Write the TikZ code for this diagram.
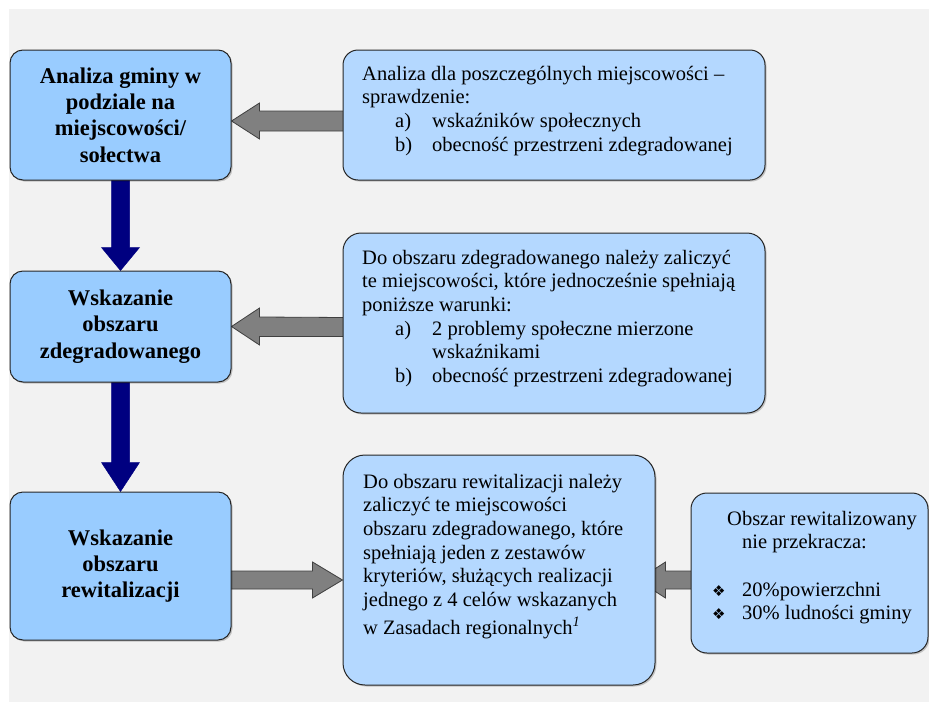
\documentclass[tikz,border=0pt]{standalone}
\usepackage{fontspec}
\setmainfont{Liberation Serif}
\newfontfamily\symfont{DejaVu Sans}
\usetikzlibrary{calc,shadows}
\definecolor{bggray}{HTML}{F2F2F2}
\definecolor{leftblue}{RGB}{153,204,255}
\definecolor{rightblue}{RGB}{180,216,255}
\definecolor{arrowgray}{RGB}{128,128,128}
\definecolor{navyarrow}{RGB}{0,0,128}
\pgfdeclarelayer{back}
\pgfdeclarelayer{mid}
\pgfsetlayers{back,mid,main}
\begin{document}
\begin{tikzpicture}[x=1pt,y=-1pt,
  boxbase/.style={draw=black!85, line width=1pt, inner sep=0pt,
    drop shadow={shadow xshift=1.5pt, shadow yshift=-1.5pt, opacity=0.2, fill=black}},
  leftbox/.style={boxbase, fill=leftblue, rounded corners=13pt, align=center,
    font=\fontsize{22.5}{26.3}\selectfont\bfseries},
  rightbox/.style={boxbase, fill=rightblue},
  txt/.style={inner sep=0pt, anchor=north west, align=left,
    font=\fontsize{20.5}{23.6}\selectfont},
  grayarrow/.style={fill=arrowgray, draw=black!75, line width=0.8pt, line join=miter},
  bluearrow/.style={fill=navyarrow, draw=navyarrow, line width=0.5pt}]
\useasboundingbox (0,0) rectangle (929,715);
\begin{pgfonlayer}{back}
  \fill[bggray] (9,9) rectangle (929,702);
\end{pgfonlayer}

% left column
\node[leftbox, minimum width=221pt, minimum height=130pt] (A) at (120.5,115)
  {Analiza gminy w\\podziale na\\miejscowości/\\sołectwa};
\node[leftbox, minimum width=221pt, minimum height=111pt] (C) at (120.5,326.5)
  {Wskazanie\\obszaru\\zdegradowanego};
\node[leftbox, minimum width=221pt, minimum height=148pt] (E) at (120.5,566)
  {Wskazanie\\obszaru\\rewitalizacji};

% right boxes
\node[rightbox, rounded corners=15pt, minimum width=422pt, minimum height=130pt] (B) at (554,115) {};
\node[rightbox, rounded corners=18pt, minimum width=422pt, minimum height=180pt] (D) at (554,323) {};
\node[rightbox, rounded corners=22pt, minimum width=312pt, minimum height=230pt] (F) at (499,570) {};
\node[rightbox, rounded corners=16pt, minimum width=237pt, minimum height=160pt] (G) at (809.5,573) {};

% texts
\node[txt] (Bt) at (362,64) {\rule{0pt}{16pt}Analiza dla poszczególnych miejscowości –\\
  sprawdzenie:\\
  \hspace*{33pt}\makebox[37pt][l]{a)}wskaźników społecznych\\
  \hspace*{33pt}\makebox[37pt][l]{b)}obecność przestrzeni zdegradowanej};
\node[txt] (Dt) at (362,248) {\rule{0pt}{16pt}Do obszaru zdegradowanego należy zaliczyć\\
  te miejscowości, które jednocześnie spełniają\\
  poniższe warunki:\\
  \hspace*{33pt}\makebox[37pt][l]{a)}2 problemy społeczne mierzone\\
  \hspace*{70pt}wskaźnikami\\
  \hspace*{33pt}\makebox[37pt][l]{b)}obecność przestrzeni zdegradowanej};
\node[txt] (Ft) at (363,472) {\rule{0pt}{16pt}Do obszaru rewitalizacji należy\\
  zaliczyć te miejscowości\\
  obszaru zdegradowanego, które\\
  spełniają jeden z zestawów\\
  kryteriów, służących realizacji\\
  jednego z 4 celów wskazanych\\[4.5pt]
  w Zasadach regionalnych\textsuperscript{\textit{1}}};
\node[txt] (Gt) at (712,509) {\rule{0pt}{16pt}\hspace*{15pt}Obszar rewitalizowany\\
  \hspace*{30pt}nie przekracza:\\
  \mbox{}\\
  \makebox[30pt][l]{\symfont\fontsize{15}{15}\selectfont ❖}20\%powierzchni\\
  \makebox[30pt][l]{\symfont\fontsize{15}{15}\selectfont ❖}30\% ludności gminy};

% arrows
\begin{pgfonlayer}{mid}
  \filldraw[grayarrow] ($(A.east)+(0,6)$) -- ++(28,-18) -- ++(0,8)
    -- ($(B.west)+(3,-4)$) -- ++(0,20) -- ($(A.east)+(28,16)$) -- ++(0,8) -- cycle;
  \filldraw[grayarrow] (C.east) -- ++(28,-18.5) -- ++(0,9)
    -- ($(D.west)+(3,-5.5)$) -- ++(0,19) -- ($(C.east)+(28,10)$) -- ++(0,8.5) -- cycle;
  \filldraw[grayarrow] ($(F.west)+(0,10)$) -- ++(-30,-18) -- ++(0,9)
    -- ($(E.east)+(-3,5)$) -- ++(0,18) -- ($(F.west)+(-30,19)$) -- ++(0,9) -- cycle;
  \filldraw[grayarrow] ($(F.east)+(-18,10)$) -- ++(28,-18) -- ++(0,9)
    -- ($(G.west)+(3,-2)$) -- ++(0,18) -- ($(F.east)+(10,19)$) -- ++(0,9) -- cycle;
  \filldraw[bluearrow] (C.north) -- ++(-19,-23) -- ++(10,0)
    -- ($(A.south)+(-9,-3)$) -- ++(18,0) -- ($(C.north)+(9,-23)$) -- ++(10,0) -- cycle;
  \filldraw[bluearrow] (E.north) -- ++(-19,-29) -- ++(10,0)
    -- ($(C.south)+(-9,-3)$) -- ++(18,0) -- ($(E.north)+(9,-29)$) -- ++(10,0) -- cycle;
\end{pgfonlayer}
\end{tikzpicture}
\end{document}
